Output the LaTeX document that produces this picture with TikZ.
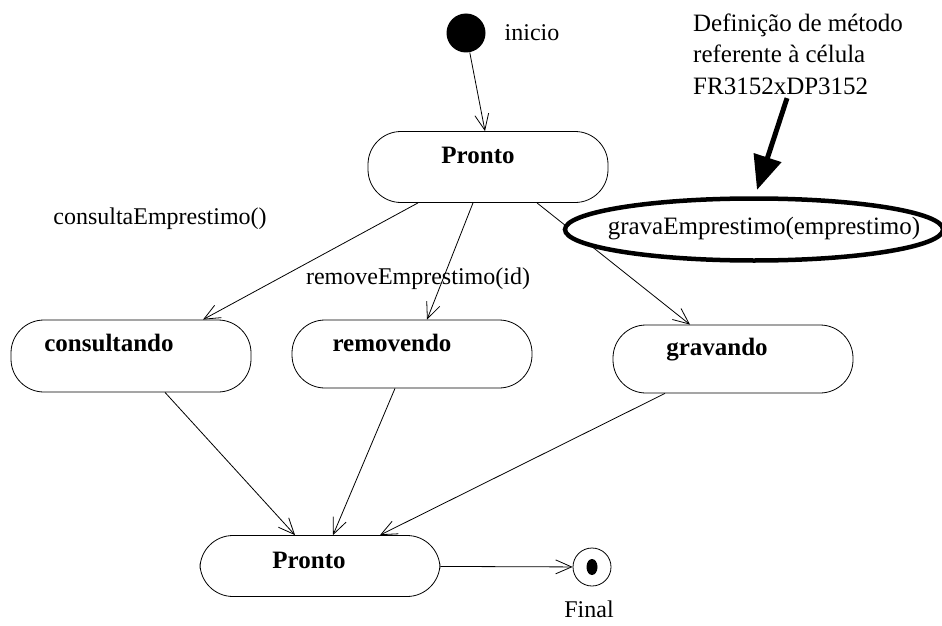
\documentclass[tikz,border=0pt]{standalone}
\usepackage{fontspec}
\setmainfont{Liberation Serif}
\usetikzlibrary{arrows.meta, shapes.geometric}

\tikzset{
  estado/.style={draw, line width=0.8pt, rounded corners=33pt, minimum width=240pt},
  nome/.style={font=\fontsize{25}{30}\bfseries\selectfont},
}

\begin{document}
\begin{tikzpicture}[x=1pt, y=-1pt, ->, >={Straight Barb[length=16pt,width=14pt]}, line width=0.8pt, font=\fontsize{24}{30}\selectfont]
    \useasboundingbox (0,0) rectangle (942,626);
    \node[circle, fill, minimum size=39pt, inner sep=0pt] (1) at (466,33) {};
    \node (inicio) at (532,33) {inicio};
    \node[estado, minimum height=71pt, label={[nome, xshift=-10pt, yshift=12pt]center:Pronto}] (2) at (488,167) {};
    \node[estado, minimum height=72pt, label={[nome, xshift=-22pt, yshift=13pt]center:consultando}] (3) at (131,356) {};
    \node[estado, minimum height=68pt, label={[nome, xshift=-20pt, yshift=11pt]center:removendo}] (4) at (412,354) {};
    \node[estado, minimum height=68pt, label={[nome, xshift=-16pt, yshift=9pt]center:gravando}] (5) at (733,359) {};
    \node[estado, minimum height=61pt, label={[nome, xshift=-11pt, yshift=6pt]center:Pronto}] (6) at (320,566) {};
    \node[circle, draw, minimum size=38pt, inner sep=0pt] (7) at (592,567) {};
    \node[ellipse, fill, minimum width=11pt, minimum height=16pt, inner sep=0pt] (7a) at (7) {};
    \node (final) at (589,609) {Final};

    \draw (1) -- ([xshift=-3pt]2.north);
    \draw ([xshift=-70pt]2.south) -- ([xshift=72pt]3.north);
    \draw ([xshift=-15pt]2.south) -- ([xshift=15pt]4.north);
    \draw ([xshift=49pt]2.south) -- ([xshift=-43pt]5.north);
    \draw ([xshift=34pt]3.south) -- ([xshift=-25pt]6.north);
    \draw ([xshift=-17pt]4.south) -- ([xshift=13pt]6.north);
    \draw ([xshift=-68pt]5.south) -- ([xshift=60pt]6.north);
    \draw (6) -- (7);

    % rotulos das transicoes
    \node (consulta) at (160,219) {consultaEmprestimo()};
    \node (remove) at (418,279) {removeEmprestimo(id)};
    \draw[-, line width=4.5pt, fill=white] (754,229.5) ellipse (189 and 31);
    \node[font=\fontsize{25}{30}\selectfont] (grava) at (764,229) {gravaEmprestimo(emprestimo)};
    \node[align=left, font=\fontsize{25}{31.5}\selectfont] (nota) at (798,54) {Definição de método\\referente à célula\\FR3152xDP3152};
    \draw[-{Triangle[length=34pt,width=28pt]}, line width=5pt] ([xshift=-11pt]nota.south) -- ([xshift=-7pt,yshift=24pt]grava.north);
\end{tikzpicture}
\end{document}
